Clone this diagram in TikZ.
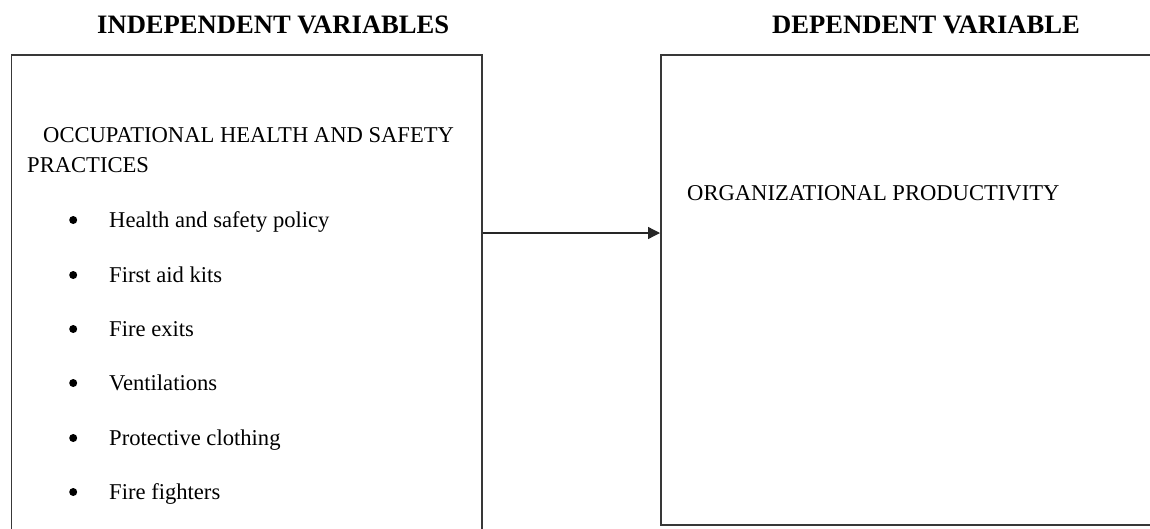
\documentclass[tikz,border=0pt]{standalone}
\usepackage{fontspec}
\setmainfont{Liberation Serif}
\usetikzlibrary{arrows.meta}
\tikzset{
  frame/.style={draw=black!78, line width=1.5pt, inner sep=0pt, anchor=north west},
  head/.style={font=\bfseries\fontsize{26.6}{30}\selectfont, inner sep=0pt, anchor=base west},
  txt/.style={font=\fontsize{22.6}{27}\selectfont, inner sep=0pt, anchor=base west},
  link/.style={draw=black!85, line width=1.3pt, -{Triangle[length=12pt,width=12pt]}}
}
\newcommand{\bul}{\llap{\makebox[72pt][c]{\raisebox{3pt}{\tikz\fill (0,0) circle (4pt);}}}}
\begin{document}
\begin{tikzpicture}[x=1pt,y=-1pt]
\useasboundingbox (0,0) rectangle (1150,528);
\clip (0,0) rectangle (1150,528);
\node[head] (h1) at (97,33) {INDEPENDENT VARIABLES};
\node[head] (h2) at (772,33) {DEPENDENT VARIABLE};
\node[frame, minimum width=470.5pt, minimum height=500pt] (L) at (10.5,54) {};
\node[frame, minimum width=520pt, minimum height=470pt] (R) at (660,54) {};
\node[txt] (t1) at (43,142) {OCCUPATIONAL HEALTH AND SAFETY};
\node[txt] (t2) at (27,172) {PRACTICES};
\node[txt] (i1) at (109,227) {\bul Health and safety policy};
\node[txt] (i2) at (109,282) {\bul First aid kits};
\node[txt] (i3) at (109,336) {\bul Fire exits};
\node[txt] (i4) at (109,390) {\bul Ventilations};
\node[txt] (i5) at (109,445) {\bul Protective clothing};
\node[txt] (i6) at (109,499) {\bul Fire fighters};
\node[txt] (o1) at (687,200) {ORGANIZATIONAL PRODUCTIVITY};
\coordinate (ay) at (0,233);
\draw[link] (L.east |- ay) -- (R.west |- ay);
\end{tikzpicture}
\end{document}
